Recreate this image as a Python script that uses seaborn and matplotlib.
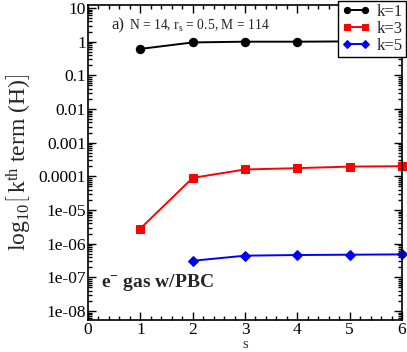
import pandas as pd
import numpy as np
import matplotlib.pyplot as plt
import seaborn as sns
from matplotlib.ticker import MultipleLocator, LogLocator, NullFormatter, FixedLocator, FixedFormatter

# values
s_k1 = [1, 2, 3, 4, 5, 6]
term_k1 = [0.61, 0.95, 1.0, 1.0, 1.02, 1.05]
s_k3 = [1, 2, 3, 4, 5, 6]
term_k3 = [2.8e-6, 9.0e-5, 1.6e-4, 1.75e-4, 1.95e-4, 2.0e-4]
s_k5 = [2, 3, 4, 5, 6]
term_k5 = [3.1e-7, 4.4e-7, 4.6e-7, 4.7e-7, 4.8e-7]

series = ['k=1', 'k=3', 'k=5']
colors = ['black', 'red', 'blue']
markers = ['o', 's', 'D']

df = pd.concat([
    pd.DataFrame({'s': s_k1, 'term': term_k1, 'k': 'k=1'}),
    pd.DataFrame({'s': s_k3, 'term': term_k3, 'k': 'k=3'}),
    pd.DataFrame({'s': s_k5, 'term': term_k5, 'k': 'k=5'}),
])

sns.set_style('ticks')
plt.rcParams['font.family'] = ['Liberation Serif', 'DejaVu Serif']
plt.rcParams['mathtext.fontset'] = 'custom'
plt.rcParams['mathtext.rm'] = 'Liberation Serif'
plt.rcParams['mathtext.it'] = 'Liberation Serif:italic'
plt.rcParams['mathtext.bf'] = 'Liberation Serif:bold'

fig = plt.figure(figsize=(4.07, 3.52), dpi=100)
ax = fig.add_axes([88 / 407, 32 / 352, 314 / 407, 315 / 352])

for name, c, m in zip(series, colors, markers):
    sub = df[df['k'] == name]
    sns.lineplot(data=sub, x='s', y='term', color=c, marker=m, markersize=6 if m != 'D' else 5.5,
                 markeredgecolor=c, linewidth=1.4, label=name, ax=ax, clip_on=False)

ax.set_yscale('log')
ax.set_xlim(0, 6)
ax.set_ylim(5.4e-9, 12.3)

yt = [1e-8, 1e-7, 1e-6, 1e-5, 1e-4, 1e-3, 1e-2, 1e-1, 1, 10]
ylabels = ['1e-08', '1e-07', '1e-06', '1e-05', '0.0001', '0.001', '0.01', '0.1', '1', '10']
ax.yaxis.set_major_locator(FixedLocator(yt))
ax.yaxis.set_major_formatter(FixedFormatter(ylabels))
ax.yaxis.set_minor_locator(LogLocator(base=10, subs=np.arange(2, 10), numticks=20))
ax.yaxis.set_minor_formatter(NullFormatter())
ax.xaxis.set_major_locator(MultipleLocator(1))
ax.xaxis.set_minor_locator(MultipleLocator(0.2))

ax.tick_params(which='both', direction='in', top=True, right=True, labelsize=12.5, width=1, colors='black')
ax.tick_params(axis='y', pad=1.5)
ax.tick_params(axis='x', pad=1.5)
ax.tick_params(which='major', length=6)
ax.tick_params(which='minor', length=3)
for sp in ax.spines.values():
    sp.set_linewidth(1.2)
    sp.set_color('black')

ax.set_xlabel('s', fontsize=10.5, labelpad=0)
ax.set_ylabel(r'log$_{10}\left[\,\mathrm{k}^{\mathrm{th}}\ \mathrm{term\ (H)}\right]$', fontsize=17, labelpad=3)

ax.text(0.075, 0.935, 'a)', transform=ax.transAxes, fontsize=12, va='center')
ax.text(0.13, 0.935, r'N = 14, r$_{\rm s}$ = 0.5, M = 114', transform=ax.transAxes, fontsize=9.8, va='center')
ax.text(0.04, 0.118, r'e$^{\mathbf{-}}$ gas w/PBC', transform=ax.transAxes, fontsize=14, fontweight='bold', va='center')

leg = ax.legend(loc='upper right', bbox_to_anchor=(406 / 407, 351 / 352), bbox_transform=fig.transFigure,
                fontsize=12, frameon=True, fancybox=False, numpoints=2, markerscale=0.75,
                handlelength=1.7, handletextpad=0.4, labelspacing=0.05, borderpad=0.2, borderaxespad=0)
leg.get_frame().set_edgecolor('black')
leg.get_frame().set_linewidth(1)
leg.get_frame().set_alpha(1)

fig.savefig('out.png', dpi=100)
